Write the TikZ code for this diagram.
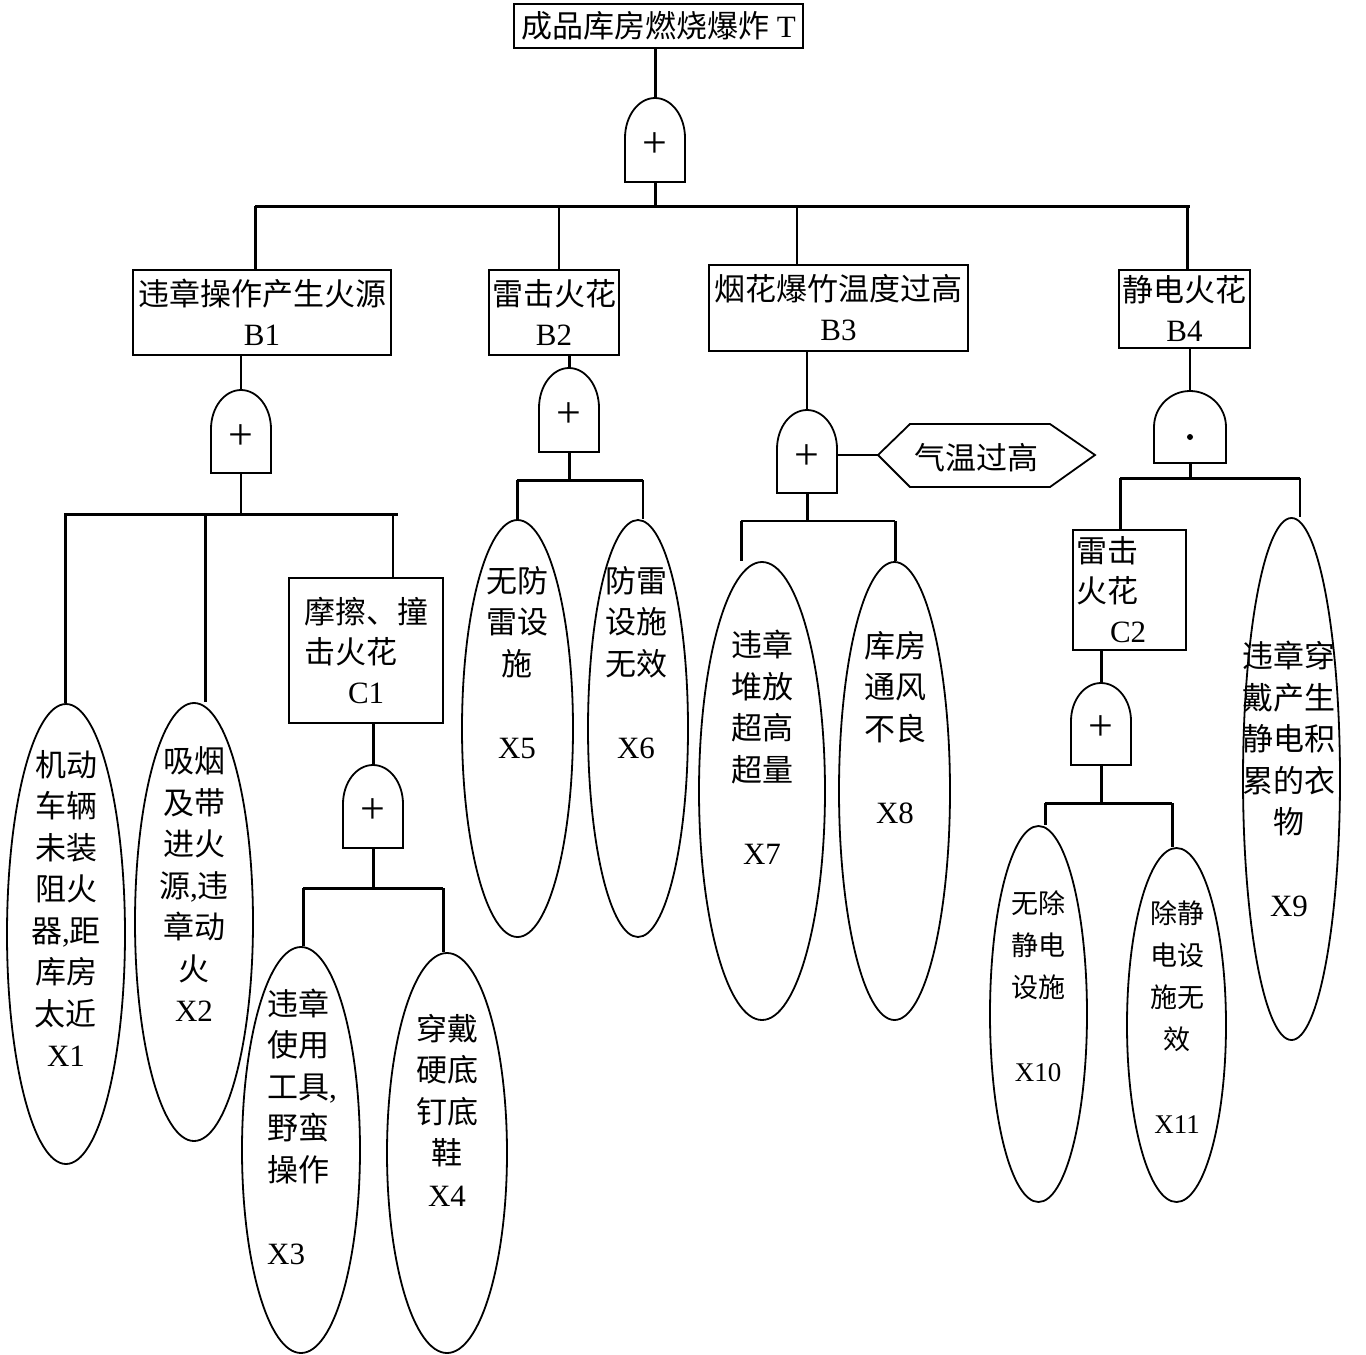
\documentclass[tikz,border=0pt]{standalone}
\usepackage{fontspec}
\setmainfont{Liberation Serif}
\newfontfamily\cjk{Noto Sans CJK SC}
\newcommand\zh[1]{{\cjk #1}}
\usetikzlibrary{shapes.geometric}
\tikzset{
 txt/.style={inner sep=0pt, align=center, font=\fontsize{31}{41.5}\selectfont},
 stxt/.style={inner sep=0pt, align=center, font=\fontsize{27}{42}\selectfont},
 box/.style={draw, line width=1.8pt, inner sep=0pt, align=center, font=\fontsize{31}{40}\selectfont},
 ell/.style={draw, ellipse, line width=1.8pt, inner sep=0pt},
 thk/.style={line width=3pt},
 thn/.style={line width=1.6pt},
 gateln/.style={line width=1.8pt},
 sym/.style={inner sep=0pt, font=\fontsize{44}{44}\selectfont},
 pics/orgate/.style n args={3}{code={
   \draw[gateln] (-#1,0) -- (-#1,-#2) arc[start angle=180,end angle=360,x radius=#1,y radius=#3] -- (#1,0) -- cycle;
   \coordinate (-bot) at (0,0);
   \coordinate (-top) at (0,-#2-#3);
   \coordinate (-right) at (#1,-38);
 }}
}
\begin{document}
\begin{tikzpicture}[x=1pt,y=-1pt]
\fill[white] (0,0) rectangle (1366,1355);
\useasboundingbox (0,0) rectangle (1366,1355);

% top event
\node[box, minimum width=289pt, minimum height=44pt] (T) at (658.5,26) {\zh{成品库房燃烧爆炸} T};
\pic (g0) at (655,182) {orgate={30}{44}{40}};
\node[sym] (g0s) at (655,145) {+};
\coordinate (bar0L) at (255,206);
\coordinate (bar0R) at (1190,206);
\coordinate (b0b2) at (559,206);
\coordinate (b0b3) at (797,206);
\coordinate (b0b4) at (1187,206);
\draw[thk] (T.south -| g0-top) -- (g0-top);
\draw[thk] (g0-bot) -- (g0-bot |- bar0L);
\draw[thk] (bar0L) -- (bar0R);

% B level
\node[box, minimum width=258pt, minimum height=85pt] (B1) at (262,312.5) {\zh{违章操作产生火源}\\B1};
\node[box, minimum width=130pt, minimum height=85pt] (B2) at (554,312.5) {\zh{雷击火花}\\B2};
\node[box, minimum width=259pt, minimum height=86pt] (B3) at (838.5,308) {\zh{烟花爆竹温度过高}\\B3};
\node[box, minimum width=131pt, minimum height=78pt] (B4) at (1184.5,309) {\zh{静电火花}\\B4};
\draw[thk] (bar0L) -- (bar0L |- B1.north);
\draw[thn] (b0b2) -- (b0b2 |- B2.north);
\draw[thn] (b0b3) -- (b0b3 |- B3.north);
\draw[thk] (b0b4) -- (b0b4 |- B4.north);

% ---- B1 branch
\pic (g1) at (241,473) {orgate={30}{44}{39}};
\node[sym] (g1s) at (241,437) {+};
\draw[thn] (B1.south -| g1-top) -- (g1-top);
\coordinate (bar1L) at (64,514);
\coordinate (bar1R) at (398,514);
\coordinate (b1x1) at (65,514);
\coordinate (b1x2) at (205,514);
\coordinate (b1c1) at (393,514);
\draw[thn] (g1-bot) -- (g1-bot |- bar1L);
\draw[thk] (bar1L) -- (bar1R);

\node[ell, minimum width=118pt, minimum height=460pt] (x1) at (66,934) {};
\node[ell, minimum width=118pt, minimum height=438pt] (x2) at (194,922) {};
\draw[thk] (b1x1) -- (b1x1 |- x1.north);
\draw[thk] (b1x2) -- (b1x2 |- x2.north);
\node[txt] (x1t) at (66,908.5) {\zh{机动}\\\zh{车辆}\\\zh{未装}\\\zh{阻火}\\\zh{器},\zh{距}\\\zh{库房}\\\zh{太近}\\X1};
\node[txt] (x2t) at (194,884.5) {\zh{吸烟}\\\zh{及带}\\\zh{进火}\\\zh{源},\zh{违}\\\zh{章动}\\\zh{火}\\X2};

\node[box, minimum width=154pt, minimum height=145pt, align=left] (C1) at (366,650.5) {\zh{摩擦、撞}\\\zh{击火花}\\\hspace*{44pt}C1};
\draw[thn] (b1c1) -- (b1c1 |- C1.north);
\pic (g6) at (373,848) {orgate={30}{44}{39}};
\node[sym] (g6s) at (373,811) {+};
\draw[thk] (C1.south -| g6-top) -- (g6-top);
\coordinate (bar6L) at (303,888);
\coordinate (bar6R) at (443,888);
\draw[thk] (g6-bot) -- (g6-bot |- bar6L);
\draw[thk] (bar6L) -- (bar6R);
\node[ell, minimum width=118pt, minimum height=406pt] (x3) at (301,1150) {};
\node[ell, minimum width=120pt, minimum height=400pt] (x4) at (447,1153) {};
\draw[thk] (bar6L) -- (bar6L |- x3.north);
\draw[thk] (bar6R) -- (bar6R |- x4.north);
\node[txt, align=left, anchor=west] (x3t) at (267,1126.5) {\zh{违章}\\\zh{使用}\\\zh{工具},\\\zh{野蛮}\\\zh{操作}\\\mbox{}\\X3};
\node[txt] (x4t) at (447,1110) {\zh{穿戴}\\\zh{硬底}\\\zh{钉底}\\\zh{鞋}\\X4};

% ---- B2 branch
\pic (g2) at (569,452) {orgate={30}{44}{40}};
\node[sym] (g2s) at (569,415) {+};
\draw[thk] (B2.south -| g2-top) -- (g2-top);
\coordinate (bar2L) at (517,480);
\coordinate (bar2R) at (643,480);
\draw[thk] (g2-bot) -- (g2-bot |- bar2L);
\draw[thk] (bar2L) -- (bar2R);
\node[ell, minimum width=111pt, minimum height=417pt] (x5) at (517.5,728.5) {};
\node[ell, minimum width=100pt, minimum height=417pt] (x6) at (638,728.5) {};
\draw[thk] (bar2L) -- (bar2L |- x5.north);
\draw[thn] (bar2R) -- (bar2R |- x6.north);
\node[txt] (x5t) at (517,662.5) {\zh{无防}\\\zh{雷设}\\\zh{施}\\\mbox{}\\X5};
\node[txt] (x6t) at (636,662.5) {\zh{防雷}\\\zh{设施}\\\zh{无效}\\\mbox{}\\X6};

% ---- B3 branch
\pic (g3) at (807,493) {orgate={30}{44}{39}};
\node[sym] (g3s) at (807,457) {+};
\draw[thn] (B3.south -| g3-top) -- (g3-top);
\coordinate (hexL) at (878,455);
\draw[gateln] (hexL) -- (910,424) -- (1050,424) -- (1095,455) -- (1050,487) -- (910,487) -- cycle;
\node[txt] (hex) at (976,458) {\zh{气温过高}};
\draw[thn] (g3-right) -- (hexL);
\coordinate (bar3L) at (741,521);
\coordinate (bar3R) at (895,521);
\draw[thk] (g3-bot) -- (g3-bot |- bar3L);
\draw[thn] (bar3L) -- (bar3R);
\node[ell, minimum width=126pt, minimum height=458pt] (x7) at (762,791) {};
\node[ell, minimum width=111pt, minimum height=458pt] (x8) at (894.5,791) {};
\draw[thk] (bar3L) -- (bar3L |- x7.north);
\draw[thk] (bar3R) -- (bar3R |- x8.north);
\node[txt] (x7t) at (762,747.5) {\zh{违章}\\\zh{堆放}\\\zh{超高}\\\zh{超量}\\\mbox{}\\X7};
\node[txt] (x8t) at (895,727.5) {\zh{库房}\\\zh{通风}\\\zh{不良}\\\mbox{}\\X8};

% ---- B4 branch
\pic (g4) at (1190,463) {orgate={36}{36}{36}};
\fill (1190,437) circle (3);
\draw[thn] (B4.south -| g4-top) -- (g4-top);
\coordinate (bar4L) at (1120,478);
\coordinate (bar4R) at (1300,478);
\draw[thk] (g4-bot) -- (g4-bot |- bar4L);
\draw[thk] (bar4L) -- (bar4R);
\node[box, text width=107pt, minimum height=120pt, inner xsep=3pt, align=left] (C2) at (1129.5,590) {\zh{雷击}\\\zh{火花}\\\hspace*{34pt}C2};
\draw[thk] (bar4L) -- (bar4L |- C2.north);
\node[ell, minimum width=97pt, minimum height=522pt] (x9) at (1291.5,779) {};
\draw[thn] (bar4R) -- (bar4R |- x9.north);
\node[txt] (x9t) at (1289,779) {\zh{违章穿}\\\zh{戴产生}\\\zh{静电积}\\\zh{累的衣}\\\zh{物}\\\mbox{}\\X9};

\pic (g5) at (1101,765) {orgate={30}{44}{38}};
\node[sym] (g5s) at (1101,728) {+};
\draw[thk] (C2.south -| g5-top) -- (g5-top);
\coordinate (bar5L) at (1045,803);
\coordinate (bar5R) at (1172,803);
\draw[thk] (g5-bot) -- (g5-bot |- bar5L);
\draw[thk] (bar5L) -- (bar5R);
\node[ell, minimum width=97pt, minimum height=376pt] (x10) at (1038.5,1014) {};
\node[ell, minimum width=99pt, minimum height=354pt] (x11) at (1176.5,1025) {};
\draw[thk] (bar5L) -- (bar5L |- x10.north);
\draw[thk] (bar5R) -- (bar5R |- x11.north);
\node[stxt] (x10t) at (1038,986.5) {\zh{无除}\\\zh{静电}\\\zh{设施}\\\mbox{}\\X10};
\node[stxt] (x11t) at (1177,1017.5) {\zh{除静}\\\zh{电设}\\\zh{施无}\\\zh{效}\\\mbox{}\\X11};
\end{tikzpicture}
\end{document}
